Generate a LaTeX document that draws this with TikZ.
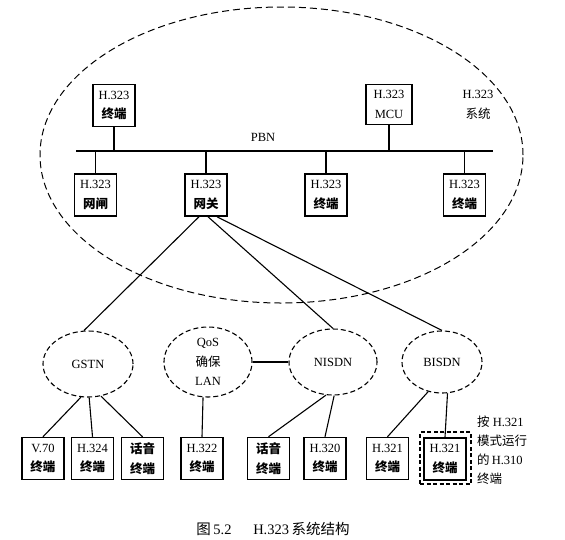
\documentclass[tikz,border=0pt]{standalone}
\usepackage{fontspec}
\setmainfont{Liberation Serif}
\newfontfamily\cjk{Noto Sans CJK SC}
\usetikzlibrary{shapes.geometric}
\newcommand{\zh}[1]{{\cjk #1}}
\newcommand{\zhb}[1]{{\cjk\bfseries #1}}
\begin{document}
\begin{tikzpicture}[x=1pt,y=-1pt,
  termbox/.style={draw, line width=1.5pt, minimum width=42pt, minimum height=42pt,
    inner sep=0pt, align=center, font=\fontsize{12.5}{19.5}\selectfont},
  net/.style={draw, dashed, dash pattern=on 5pt off 3pt, ellipse, line width=1.1pt,
    inner sep=0pt, align=center, font=\fontsize{12.5}{19.5}\selectfont},
  link/.style={line width=1.1pt},
  lbl/.style={inner sep=0pt, align=center, font=\fontsize{12.5}{19.5}\selectfont}]
\useasboundingbox (0,0) rectangle (565,539);

% H.323 system region
\node[draw, ellipse, dashed, dash pattern=on 7pt off 4pt, line width=1pt,
  minimum width=483pt, minimum height=296pt, inner sep=0pt] (sys) at (281.5,155) {};
\node[lbl] (syslbl) at (478,105) {H.323\\\zh{系统}};

% PBN bus
\coordinate (busL) at (76,151);
\coordinate (busR) at (493,151);
\draw[line width=1.3pt] (busL) -- (busR);
\node[lbl] (pbn) at (263,137) {PBN};

% boxes on the bus
\node[termbox] (t1) at (114,105.5) {H.323\\\zhb{终端}};
\node[termbox, minimum width=46pt, minimum height=40pt] (mcu) at (389,104.5) {H.323\\MCU};
\node[termbox] (gk) at (95.5,195) {H.323\\\zhb{网闸}};
\node[termbox] (gw) at (206,195) {H.323\\\zhb{网关}};
\node[termbox] (t2) at (326,195) {H.323\\\zhb{终端}};
\node[termbox] (t3) at (464.5,195) {H.323\\\zhb{终端}};

\foreach \b in {t1,mcu} \draw[link] (\b.south) -- (\b.south |- busL);
\foreach \b in {gk,gw,t2,t3} \draw[link] (\b.north) -- (\b.north |- busL);

% networks
\node[net, minimum width=90pt, minimum height=66pt] (gstn) at (88,364) {GSTN};
\node[net, minimum width=88pt, minimum height=70pt] (qos) at (208,362) {QoS\\\zh{确保}\\LAN};
\node[net, minimum width=88pt, minimum height=66pt] (nisdn) at (333,362) {NISDN};
\node[net, minimum width=80pt, minimum height=62pt] (bisdn) at (442,362) {BISDN};

\draw[link] ([xshift=-7pt]gw.south) -- (gstn.97);
\draw[link] ([xshift=2pt]gw.south) -- (nisdn.north);
\draw[link] ([xshift=11pt]gw.south) -- (bisdn.north);
\draw[link] (qos.east) -- (nisdn.west);

% end terminals
\node[termbox] (v70) at (43,458.5) {V.70\\\zhb{终端}};
\node[termbox] (h324) at (92.5,458.5) {H.324\\\zhb{终端}};
\node[termbox] (vo1) at (142.5,458.5) {\zhb{话音}\\\zhb{终端}};
\node[termbox] (h322) at (202,458.5) {H.322\\\zhb{终端}};
\node[termbox] (vo2) at (268.5,458.5) {\zhb{话音}\\\zhb{终端}};
\node[termbox] (h320) at (325,458.5) {H.320\\\zhb{终端}};
\node[termbox] (h321a) at (387.5,458.5) {H.321\\\zhb{终端}};
\node[termbox] (h321b) at (445,459) {H.321\\\zhb{终端}};
\node[draw, dashed, dash pattern=on 4pt off 2.5pt, line width=1.2pt,
  minimum width=51pt, minimum height=52pt, inner sep=0pt] (h310) at (445.5,458) {};

\draw[link] (gstn.258) -- (v70.north);
\draw[link] (gstn.272) -- (h324.north);
\draw[link] (gstn.292) -- (vo1.north);
\draw[link] (qos.262) -- (h322.north);
\draw[link] (nisdn.258) -- (vo2.north);
\draw[link] (nisdn.272) -- (h320.north);
\draw[link] (bisdn.245) -- (h321a.north);
\draw[link] (bisdn.280) -- (h321b.north);

\node[anchor=north west, inner sep=0pt, align=left, font=\fontsize{12.5}{19}\selectfont]
  (note) at (477,416) {\zh{按}\ H.321\\\zh{模式运行}\\\zh{的}\,H.310\\\zh{终端}};

\node[inner sep=0pt, font=\fontsize{14.5}{17}\selectfont] (cap) at (273,529)
  {\zh{图}\,5.2\hspace{1.5em}H.323\,\zh{系统结构}};
\end{tikzpicture}
\end{document}
